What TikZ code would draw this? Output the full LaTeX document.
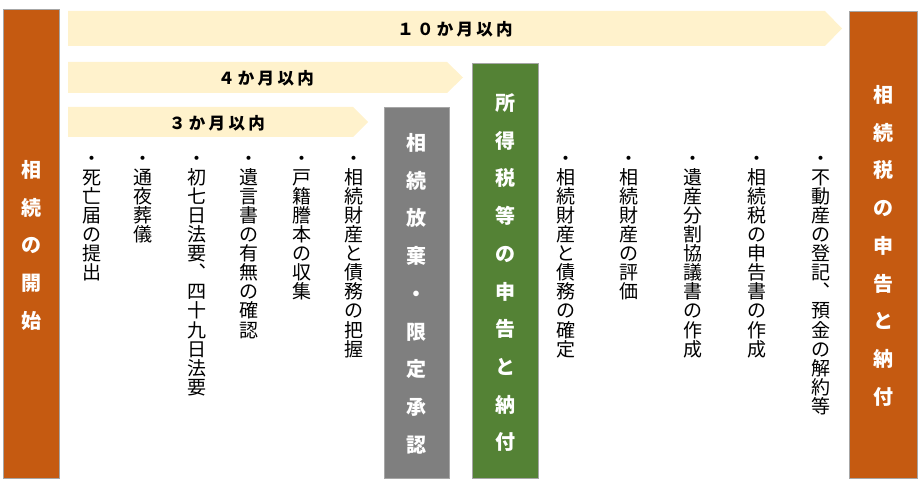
\documentclass[tikz,border=0pt]{standalone}
\usepackage{fontspec}
\newfontfamily\jp{Noto Sans CJK JP}
\definecolor{orgC}{HTML}{C55A11}
\definecolor{grnC}{HTML}{548235}
\definecolor{gryC}{HTML}{7F7F7F}
\definecolor{arrC}{HTML}{FFF2CC}
\definecolor{brdC}{HTML}{A6A6A6}
\tikzset{
  box/.style={draw=brdC, line width=0.8pt, inner sep=0pt, anchor=north west},
  itemch/.style={font=\jp\fontsize{19}{19}\selectfont, inner sep=0pt, text height=16.7pt, text depth=2.3pt, text=black},
  titlech/.style={font=\jp\bfseries\fontsize{20}{20}\selectfont, inner sep=0pt, text height=17.6pt, text depth=2.4pt, text=white},
  arrlabel/.style={font=\jp\bfseries\fontsize{16.5}{16.5}\selectfont\addfontfeature{LetterSpace=20}, inner sep=0pt, text=black},
  arrowbar/.style={fill=arrC}
}
\newcommand\vcol[4]{\foreach \c [count=\i from 0] in {#4} {\node[itemch] (#1\i) at (#2,{#3+19.1*\i}) {\c};}}
\newcommand\tcol[4]{\foreach \c [count=\i from 0] in {#4} {\node[titlech] (#1\i) at (#2,{#3+37.7*\i}) {\c};}}
\begin{document}
\begin{tikzpicture}[x=1pt,y=-1pt]
\useasboundingbox (0,0) rectangle (924,486);
% arrows
\fill[arrowbar] (68,11) -- (825,11) -- (842,28.5) -- (825,46) -- (68,46) -- cycle;
\node[arrlabel] (ten) at (455,29.5) {１０か月以内};
\fill[arrowbar] (68,62) -- (447,62) -- (463,77.5) -- (447,93) -- (68,93) -- cycle;
\node[arrlabel] (four) at (266,78.5) {４か月以内};
\fill[arrowbar] (68,107) -- (353,107) -- (368,122) -- (353,137) -- (68,137) -- cycle;
\node[arrlabel] (three) at (217,123) {３か月以内};
% boxes
\node[box, fill=orgC, minimum width=56pt, minimum height=469pt] (start) at (3,9) {};
\node[box, fill=gryC, minimum width=65pt, minimum height=371pt] (renounce) at (384,107) {};
\node[box, fill=grnC, minimum width=66pt, minimum height=415pt] (income) at (472,63) {};
\node[box, fill=orgC, minimum width=68pt, minimum height=467pt] (inhtax) at (849,11) {};
% titles
\tcol{s}{31}{170}{相,続,の,開,始}
\tcol{g}{416.5}{143}{相,続,放,棄,・,限,定,承,認}
\tcol{n}{505.5}{103}{所,得,税,等,の,申,告,と,納,付}
\tcol{r}{883}{95}{相,続,税,の,申,告,と,納,付}
% items
\vcol{a}{92}{158}{・,死,亡,届,の,提,出}
\vcol{b}{143}{158}{・,通,夜,葬,儀}
\vcol{c}{197}{158}{・,初,七,日,法,要,︑,四,十,九,日,法,要}
\vcol{d}{249}{158}{・,遺,言,書,の,有,無,の,確,認}
\vcol{e}{302}{158}{・,戸,籍,謄,本,の,収,集}
\vcol{f}{354}{158}{・,相,続,財,産,と,債,務,の,把,握}
\vcol{h}{566}{158}{・,相,続,財,産,と,債,務,の,確,定}
\vcol{i}{629}{158}{・,相,続,財,産,の,評,価}
\vcol{j}{693}{158}{・,遺,産,分,割,協,議,書,の,作,成}
\vcol{k}{757}{158}{・,相,続,税,の,申,告,書,の,作,成}
\vcol{m}{821}{158}{・,不,動,産,の,登,記,︑,預,金,の,解,約,等}
\end{tikzpicture}
\end{document}
